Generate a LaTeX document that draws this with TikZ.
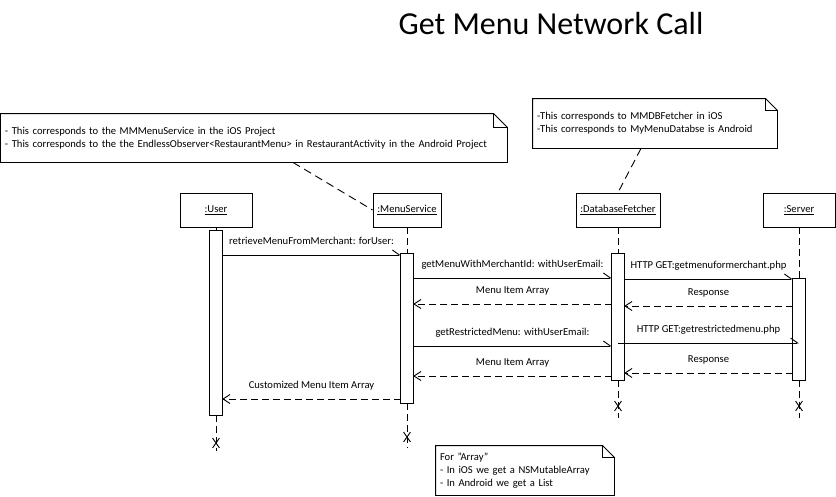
\documentclass[tikz,border=0pt]{standalone}
\usepackage{fontspec}
\setmainfont{Carlito}
\usetikzlibrary{arrows.meta,shapes.misc}
\newcommand\lblfont{\fontsize{10.6}{13.3}\selectfont}
\begin{document}
\begin{tikzpicture}[x=1pt,y=-1pt,line width=0.9pt,
  obj/.style={draw,minimum height=34pt,inner sep=0pt,font=\lblfont},
  actbar/.style={draw,fill=white,minimum width=11.5pt,inner sep=0pt},
  life/.style={dash pattern=on 7pt off 4pt},
  call/.style={-{Straight Barb[harpoon,length=7pt,width=10pt]}},
  ret/.style={dash pattern=on 7pt off 4pt,-{Straight Barb[length=7pt,width=9pt]}},
  lbl/.style={font=\lblfont,anchor=base,yshift=11pt,inner sep=0pt},
  notebox/.style={font=\lblfont,align=left,inner xsep=4pt,inner ysep=0pt},
  noteline/.style={dash pattern=on 8pt off 5pt},
  endx/.style={cross out,draw,minimum width=6pt,minimum height=9pt,inner sep=0pt}]
\useasboundingbox (0,0) rectangle (836,496);

% title
\node[font=\fontsize{32}{38}\selectfont,anchor=base,inner sep=0pt] (title) at (551,34) {Get Menu Network Call};

% notes
\node[notebox,text width=498pt,minimum height=48pt] (noteA) at (254,138)
  {- This corresponds to the MMMenuService in the iOS Project\\- This corresponds to the the EndlessObserver<RestaurantMenu> in RestaurantActivity in the Android Project};
\node[notebox,text width=236pt,minimum height=49pt] (noteB) at (655,123.5)
  {-This corresponds to MMDBFetcher in iOS\\-This corresponds to MyMenuDatabse is Android};
\node[notebox,text width=170pt,minimum height=49pt] (noteC) at (525,470.5)
  {For \symbol{34}Array\symbol{34}\\- In iOS we get a NSMutableArray\\- In Android we get a List};
\foreach \n/\f in {noteA/14,noteB/12,noteC/12}{
  \draw (\n.north west) -- ([xshift=-\f pt]\n.north east) -- ([yshift=-\f pt]\n.north east)
        -- (\n.south east) -- (\n.south west) -- cycle;
  \draw ([xshift=-\f pt]\n.north east) |- ([yshift=-\f pt]\n.north east);
}

% objects
\node[obj,minimum width=72pt] (user) at (216,210) {\underline{:User}};
\node[obj,minimum width=68pt] (ms) at (407,210) {\underline{:MenuService}};
\node[obj,minimum width=84pt] (df) at (618,210) {\underline{:DatabaseFetcher}};
\node[obj,minimum width=72pt] (srv) at (799,210) {\underline{:Server}};

% note connectors
\draw[noteline] ([xshift=39pt]noteA.south) -- (ms.west);
\draw[noteline] ([xshift=-14pt]noteB.south) -- (df.north);

% lifeline ends
\coordinate (uend) at (216,451);
\coordinate (msend) at (407,448);
\coordinate (dfend) at (618,418);
\coordinate (srvend) at (799,418);

% activation bars
\node[actbar,minimum height=184pt] (ub) at (216,323) {};
\node[actbar,minimum height=149pt] (msb) at (407,328.5) {};
\node[actbar,minimum height=126pt] (dfb) at (618,317) {};
\node[actbar,minimum height=101pt] (srvb) at (799,329.5) {};

% lifelines
\draw[life] (user.south) -- (ub.north);
\draw[life] (ub.south) -- (uend);
\draw[life] (ms.south) -- (msb.north);
\draw[life] (msb.south) -- (msend);
\draw[life] (df.south) -- (dfb.north);
\draw[life] (dfb.south) -- (dfend);
\draw[life] (srv.south) -- (srvb.north);
\draw[life] (srvb.south) -- (srvend);

% redraw bars on top of lifelines
\foreach \b in {ub,msb,dfb,srvb}{\draw[fill=white] (\b.north west) rectangle (\b.south east);}

% destruction marks
\node[endx] (ux) at (216,443) {};
\node[endx] (msx) at (407,437) {};
\node[endx] (dfx) at (618,406) {};
\node[endx] (srvx) at (799,406) {};

% messages
\draw[call] (ub.east |- 0,255) -- (msb.west |- 0,255)
  node[lbl,midway] {retrieveMenuFromMerchant: forUser:};
\draw[call] (msb.east |- 0,278) -- (dfb.west |- 0,278)
  node[lbl,midway] {getMenuWithMerchantId: withUserEmail:};
\draw[call] (dfb.east |- 0,279) -- (srvb.west |- 0,279)
  node[lbl,midway] {HTTP GET:getmenuformerchant.php};
\draw[ret] (dfb.west |- 0,304) -- (msb.east |- 0,304)
  node[lbl,midway] {Menu Item Array};
\draw[ret] (srvb.west |- 0,306) -- (dfb.east |- 0,306)
  node[lbl,midway] {Response};
\draw[call] (msb.east |- 0,346) -- (dfb.west |- 0,346)
  node[lbl,midway] {getRestrictedMenu: withUserEmail:};
\draw[call] (dfb.center |- 0,343) -- (srvb.center |- 0,343)
  node[lbl,midway] {HTTP GET:getrestrictedmenu.php};
\draw[ret] (srvb.west |- 0,373) -- (dfb.east |- 0,373)
  node[lbl,midway] {Response};
\draw[ret] (dfb.west |- 0,376) -- (msb.east |- 0,376)
  node[lbl,midway] {Menu Item Array};
\draw[ret] (msb.west |- 0,399) -- (ub.east |- 0,399)
  node[lbl,midway] {Customized Menu Item Array};
\end{tikzpicture}
\end{document}
